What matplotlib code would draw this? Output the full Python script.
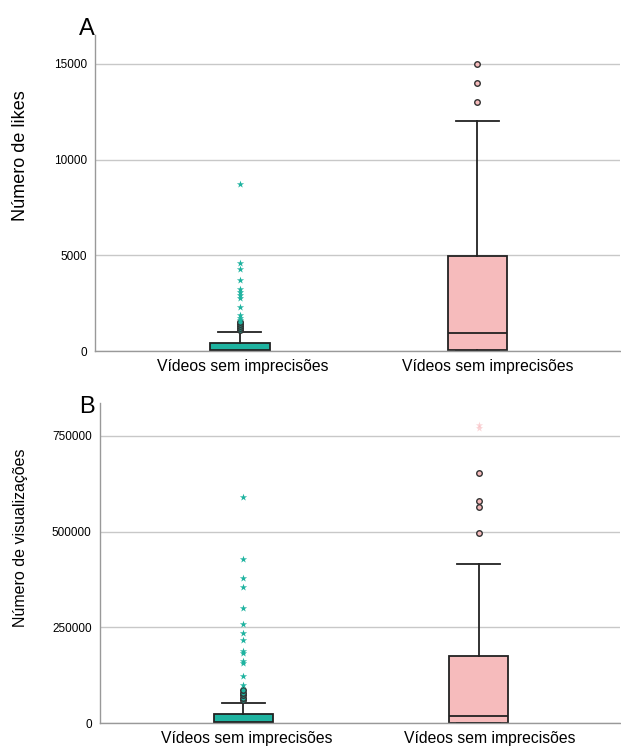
import matplotlib
matplotlib.use("Agg")
import matplotlib.pyplot as plt

plt.rcParams['font.family'] = ['Liberation Sans', 'DejaVu Sans']

categories = ["Vídeos sem imprecisões", "Vídeos sem imprecisões"]
box_colors = ["#1fb3a0", "#f6bbbc"]

# panel A - likes
likes_stats = [
    dict(whislo=0, q1=0, med=80, q3=400, whishi=1000),
    dict(whislo=0, q1=50, med=950, q3=4950, whishi=12000),
]
likes_circles = [[1100, 1200, 1300, 1400, 1500], [13000, 14000, 15000]]
likes_stars = [[1600, 1700, 1900, 2300, 2750, 2950, 3100, 3250, 3700, 4300, 4600, 8700], []]

# panel B - views
views_stats = [
    dict(whislo=0, q1=0, med=3000, q3=23500, whishi=52000),
    dict(whislo=0, q1=0, med=18000, q3=174000, whishi=415000),
]
views_circles = [[60000, 66000, 72000, 78000, 85000], [497000, 565000, 580000, 653000]]
views_stars = [[99000, 123000, 157000, 162000, 183000, 188000, 217000, 235000,
                259000, 300000, 355000, 379000, 428000, 590000], [771000, 779000]]
star_colors = ["#1fb3a0", "#f7b8bc"]


def panel(ax, stats, circles, stars, yticks, ylim, ylabel, label_size, label_y):
    for i, s in enumerate(stats):
        s["fliers"] = []
        ax.bxp([s], positions=[i + 1], widths=0.25, patch_artist=True,
               showfliers=False, manage_ticks=False,
               boxprops=dict(facecolor=box_colors[i], edgecolor="#222222", linewidth=1.3),
               medianprops=dict(color="#222222", linewidth=1.3),
               whiskerprops=dict(color="#222222", linewidth=1.3),
               capprops=dict(color="#222222", linewidth=1.3),
               capwidths=0.18)
        ax.scatter([i + 1] * len(circles[i]), circles[i], s=16, marker="o",
                   facecolor=box_colors[i], edgecolor="#333333", linewidth=1.0, zorder=3)
        alpha = 1.0 if i == 0 else 0.6
        ax.scatter([i + 1] * len(stars[i]), stars[i], s=30, marker="*",
                   color=star_colors[i], alpha=alpha, linewidth=0, zorder=3)
    ax.set_xlim(0.39, 2.6)
    ax.set_ylim(*ylim)
    ax.set_yticks(yticks)
    ax.set_yticklabels([str(v) for v in yticks], fontsize=8.5)
    # labels sit a little right of the boxes in the original (tick marks hidden)
    ax.set_xticks([1.013, 2.046])
    ax.set_xticklabels(categories, fontsize=11.3)
    ax.tick_params(length=0, pad=6)
    ax.grid(axis="y", color="#c8c8c8", linewidth=1.0)
    ax.set_axisbelow(True)
    for sp in ["top", "right"]:
        ax.spines[sp].set_visible(False)
    for sp in ["left", "bottom"]:
        ax.spines[sp].set_color("#999999")
        ax.spines[sp].set_linewidth(1.0)
    ax.set_ylabel(ylabel, fontsize=label_size)
    ax.yaxis.set_label_coords(21 / 621, label_y, transform=fig.transFigure)
    ax.yaxis.label.set_horizontalalignment("center")
    ax.yaxis.label.set_verticalalignment("center")


fig = plt.figure(figsize=(6.21, 7.48), dpi=100)
ax1 = fig.add_axes([0.153, 0.5307, 0.845, 0.4225])
ax2 = fig.add_axes([0.161, 0.0334, 0.837, 0.428])

panel(ax1, likes_stats, likes_circles, likes_stars, [0, 5000, 10000, 15000],
      (0, 16500), "Número de likes", 13, 1 - 156 / 748)
panel(ax2, views_stats, views_circles, views_stars, [0, 250000, 500000, 750000],
      (0, 836000), "Número de visualizações", 11.5, 1 - 538 / 748)

fig.text(95 / 621, 1 - 35 / 748, "A", fontsize=17, ha="right", va="baseline")
fig.text(95 / 621, 1 - 413 / 748, "B", fontsize=17, ha="right", va="baseline")

fig.savefig("out.png", dpi=100)
